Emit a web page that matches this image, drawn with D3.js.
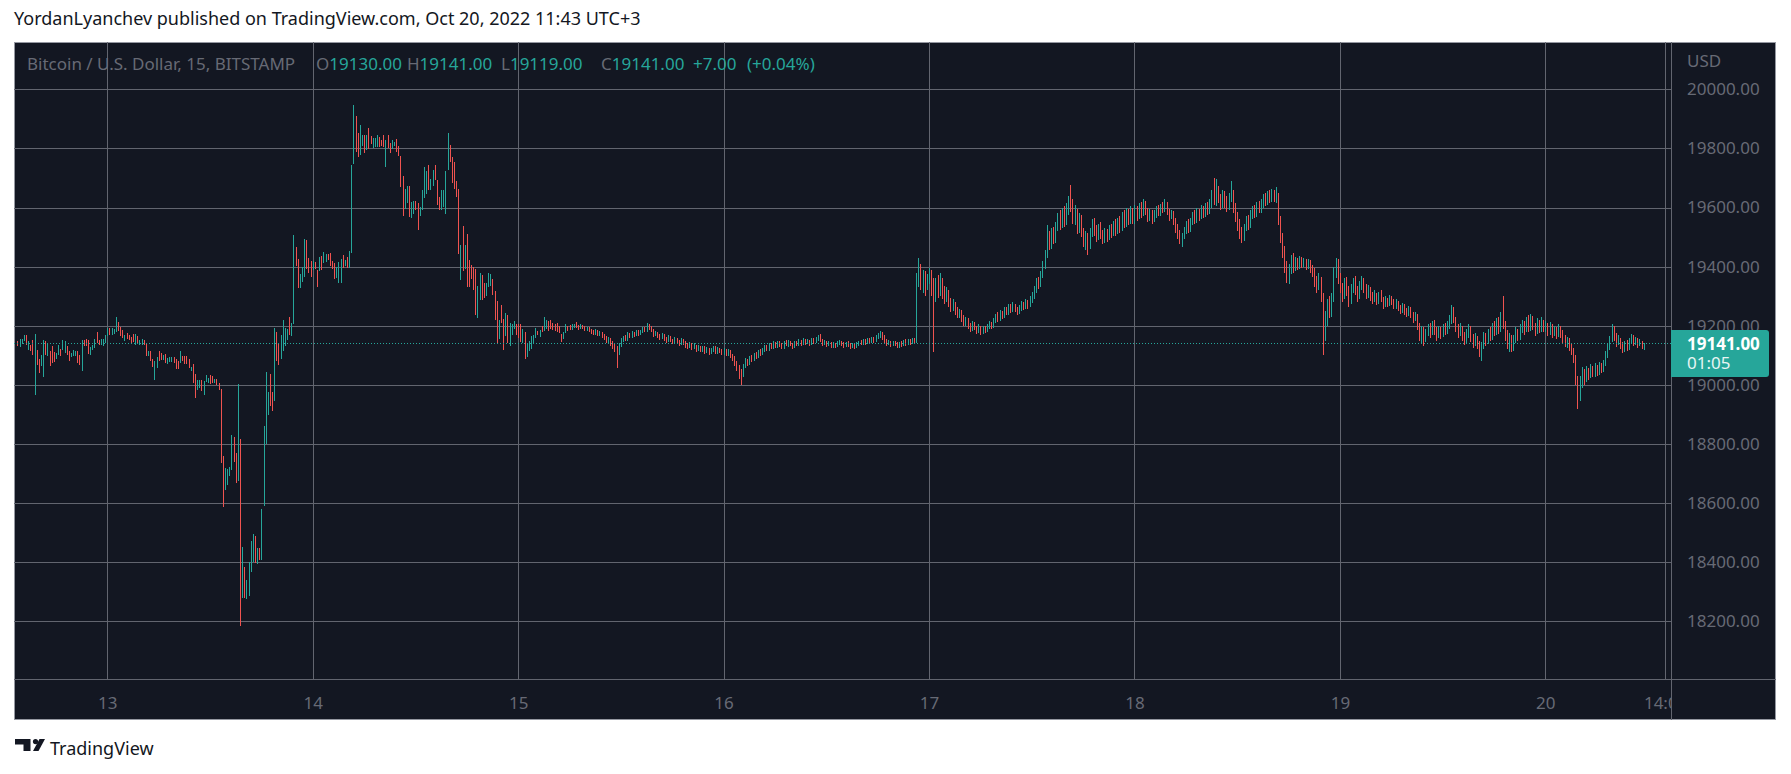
<!DOCTYPE html>
<html>
<head>
<meta charset="utf-8">
<script src="https://cdn.jsdelivr.net/npm/d3@7"></script>
<style>
  html, body { margin: 0; padding: 0; background: #fff; }
  svg { display: block; font-family: "Noto Sans", sans-serif; }
</style>
</head>
<body>
<div id="chart"></div>
<script>
// BTC/USD 15m bars, Bitstamp (O = previous close)
const firstOpen = 19145;

// Oct 12, from 13:30
const oct12Hi = [19147,19155,19156,19170,19167,19147,19136,19153,19173,19119,19089,19102,19151,19150,19142,19113,19131,19111,19108,19134,19122,19153,19147,19133,19114,19108,19117,19116,19114,19102,19153,19153,19156,19153,19127,19136,19155,19178,19151,19155,19155,19170];
const oct12Lo = [19130,19128,19139,19147,19136,19119,19115,19102,18967,19068,19041,19063,19026,19102,19097,19063,19074,19079,19086,19102,19099,19119,19108,19102,19080,19094,19097,19097,19074,19068,19048,19131,19133,19106,19102,19119,19125,19142,19136,19136,19133,19142];
const oct12Cl = [19133,19150,19155,19165,19140,19145,19120,19108,19115,19075,19050,19095,19140,19108,19130,19095,19090,19082,19100,19128,19105,19135,19145,19110,19088,19105,19112,19114,19080,19072,19145,19135,19134,19110,19125,19132,19150,19145,19140,19150,19152,19165];

// Oct 13
const oct13Hi = [19192,19194,19193,19190,19229,19211,19196,19185,19170,19176,19168,19162,19173,19171,19164,19153,19156,19153,19140,19116,
  19114,19089,19080,19095,19114,19108,19102,19105,19091,19095,19095,19093,19086,19080,19114,19099,19099,19099,19086,19061,
  19072,19038,19016,19015,19015,19012,19035,19024,19032,19029,19020,19020,19007,18985,18760,18719,18715,18722,18832,18824,
  18770,19003,18818,18451,18383,18340,18399,18472,18496,18489,18449,18447,18581,18860,19045,18977,19038,18975,19191,19178,
  19140,19167,19221,19191,19188,19228,19210,19506,19468,19425,19376,19399,19493,19489,19428,19419];
const oct13Lo = [19164,19167,19168,19172,19178,19181,19164,19159,19147,19156,19151,19142,19145,19134,19142,19134,19136,19134,19097,19099,
  19080,19060,19018,19057,19080,19084,19085,19074,19072,19077,19079,19074,19055,19055,19074,19082,19072,19069,19058,19046,
  19007,18957,18984,18990,18979,18965,19009,19007,19004,19007,19007,18998,18982,18736,18586,18643,18662,18690,18711,18738,
  18668,18676,18185,18278,18280,18275,18284,18366,18399,18397,18393,18408,18408,18589,18801,18899,18928,18911,18947,19080,
  19066,19086,19114,19133,19151,19168,19165,19205,19402,19327,19327,19348,19365,19391,19377,19365];
const oct13Cl = [19185,19172,19188,19189,19215,19186,19170,19162,19168,19160,19155,19150,19148,19165,19145,19150,19152,19138,19100,19112,
  19085,19065,19075,19093,19088,19086,19100,19078,19088,19092,19094,19078,19060,19058,19108,19090,19080,19072,19058,19060,
  19015,18990,19010,19012,18985,19010,19018,19022,19010,19008,19018,19002,18985,18745,18650,18700,18710,18718,18820,18745,
  18690,18815,18300,18370,18290,18335,18390,18465,18490,18410,18440,18415,18575,18850,18960,18970,18940,18930,19150,19100,
  19090,19150,19180,19185,19187,19175,19205,19440,19410,19340,19370,19390,19470,19400,19385,19375];

// Oct 14
const oct14Hi = [19419,19415,19388,19433,19436,19449,19442,19444,19446,19418,19411,19399,19414,19425,19438,19421,19431,19452,19744,19947,
  19910,19853,19879,19845,19845,19845,19868,19842,19834,19836,19845,19840,19828,19845,19828,19845,19817,19828,19823,19832,
  19808,19774,19706,19663,19672,19672,19618,19621,19621,19614,19602,19658,19736,19723,19743,19696,19727,19743,19693,19634,
  19658,19658,19723,19853,19811,19772,19755,19690,19662,19472,19537,19472,19512,19421,19405,19399,19391,19334,19377,19372,
  19343,19343,19377,19374,19357,19318,19284,19219,19269,19224,19242,19238,19208,19205,19215,19205];
const oct14Lo = [19388,19391,19331,19384,19388,19412,19416,19424,19401,19391,19357,19363,19345,19345,19397,19401,19397,19397,19445,19747,
  19789,19772,19777,19808,19785,19794,19797,19814,19800,19806,19806,19806,19808,19806,19738,19803,19783,19797,19808,19789,
  19775,19670,19571,19594,19614,19568,19564,19577,19591,19523,19571,19591,19633,19646,19658,19658,19672,19693,19608,19591,
  19591,19602,19577,19727,19755,19684,19662,19636,19442,19354,19384,19393,19331,19332,19357,19322,19238,19225,19286,19286,
  19295,19301,19331,19334,19303,19221,19142,19154,19210,19117,19165,19142,19133,19167,19188,19167];
const oct14Cl = [19410,19395,19345,19425,19395,19430,19438,19428,19405,19395,19365,19390,19405,19420,19400,19415,19402,19445,19740,19880,
  19800,19790,19840,19842,19800,19830,19820,19816,19828,19830,19840,19812,19810,19808,19825,19810,19790,19820,19822,19795,
  19780,19680,19600,19650,19660,19580,19605,19610,19600,19580,19595,19645,19700,19710,19670,19690,19715,19700,19620,19600,
  19640,19650,19720,19800,19770,19700,19680,19650,19460,19468,19400,19450,19400,19370,19360,19330,19250,19320,19360,19300,
  19297,19330,19370,19372,19310,19230,19160,19215,19212,19130,19230,19150,19195,19200,19210,19180];

// Oct 15
const oct15Hi = [19205,19205,19188,19179,19142,19148,19165,19168,19191,19182,19184,19199,19231,19219,19216,19219,19210,19205,19210,19199,
  19173,19180,19205,19199,19202,19205,19207,19212,19203,19206,19204,19199,19197,19196,19190,19186,19188,19186,19181,19180,
  19172,19165,19162,19160,19148,19138,19130,19140,19158,19166,19168,19178,19175,19182,19180,19185,19184,19186,19196,19197,
  19210,19206,19200,19190,19182,19180,19172,19174,19172,19162,19167,19165,19156,19162,19160,19153,19158,19155,19148,19142,
  19145,19143,19140,19136,19135,19133,19132,19130,19127,19125,19124,19133,19130,19128,19126,19122];
const oct15Lo = [19160,19145,19142,19088,19094,19114,19123,19142,19159,19167,19162,19179,19182,19188,19182,19188,19184,19182,19179,19176,
  19145,19154,19174,19182,19184,19185,19191,19192,19186,19188,19190,19182,19183,19178,19172,19168,19170,19164,19166,19160,
  19152,19140,19143,19132,19122,19110,19057,19100,19128,19144,19148,19150,19158,19160,19163,19165,19166,19168,19175,19178,
  19180,19186,19178,19162,19165,19158,19152,19154,19148,19142,19145,19144,19137,19140,19140,19132,19135,19136,19126,19122,
  19125,19118,19120,19112,19114,19110,19112,19106,19108,19100,19104,19112,19105,19106,19108,19100];
const oct15Cl = [19170,19150,19180,19100,19135,19140,19160,19165,19185,19170,19180,19179,19205,19212,19200,19192,19188,19185,19182,19178,
  19150,19175,19200,19190,19186,19200,19205,19198,19192,19200,19195,19188,19192,19185,19180,19175,19182,19170,19176,19168,
  19160,19150,19155,19140,19130,19120,19110,19135,19150,19160,19155,19170,19165,19175,19170,19178,19172,19180,19190,19185,
  19200,19195,19185,19170,19175,19165,19160,19168,19155,19150,19160,19150,19145,19155,19148,19140,19150,19142,19135,19130,
  19138,19125,19132,19120,19128,19118,19125,19115,19120,19110,19118,19125,19112,19120,19115,19108];

// Oct 16
const oct16Hi = [19125,19122,19120,19118,19105,19096,19082,19068,19055,19072,19090,19088,19098,19100,19108,19112,19118,19120,19125,19135,
  19136,19140,19142,19148,19144,19150,19148,19140,19147,19152,19153,19150,19143,19148,19150,19155,19152,19158,19156,19155,
  19153,19160,19158,19163,19168,19172,19155,19152,19150,19148,19146,19145,19143,19148,19152,19150,19144,19146,19147,19140,
  19143,19142,19144,19150,19152,19155,19154,19158,19157,19162,19162,19168,19175,19182,19180,19168,19156,19152,19150,19148,
  19150,19145,19146,19148,19152,19155,19156,19155,19158,19160,19380,19430,19410,19390,19385,19375];
const oct16Lo = [19100,19098,19096,19090,19080,19065,19048,19020,19000,19028,19058,19064,19068,19078,19080,19088,19090,19098,19100,19112,
  19113,19115,19120,19122,19124,19126,19128,19120,19122,19130,19128,19130,19122,19125,19130,19130,19132,19134,19136,19138,
  19133,19136,19138,19140,19148,19144,19132,19134,19128,19130,19124,19126,19125,19128,19135,19132,19126,19128,19128,19122,
  19124,19123,19126,19132,19134,19135,19136,19138,19140,19140,19143,19146,19155,19158,19152,19142,19132,19134,19128,19130,
  19132,19124,19126,19128,19130,19133,19135,19136,19138,19138,19140,19330,19320,19310,19300,19320];
const oct16Cl = [19115,19105,19112,19098,19090,19075,19060,19040,19035,19065,19080,19072,19090,19085,19100,19095,19110,19105,19118,19125,
  19120,19132,19128,19138,19130,19142,19135,19128,19140,19135,19145,19138,19130,19142,19136,19145,19140,19150,19142,19148,
  19140,19152,19145,19155,19160,19150,19140,19145,19135,19142,19130,19138,19132,19140,19145,19138,19132,19140,19135,19128,
  19136,19130,19138,19145,19140,19148,19142,19150,19145,19155,19150,19160,19165,19175,19160,19150,19140,19145,19135,19142,
  19138,19130,19140,19135,19145,19140,19148,19142,19150,19145,19350,19400,19340,19370,19330,19350];

// Oct 17
const oct17Hi = [19395,19390,19360,19360,19372,19380,19360,19335,19330,19320,19295,19290,19282,19262,19258,19252,19235,19230,19226,19210,
  19215,19212,19200,19205,19200,19198,19200,19205,19215,19212,19225,19240,19245,19252,19250,19262,19265,19272,19275,19280,
  19274,19265,19270,19285,19282,19290,19288,19300,19315,19335,19360,19365,19385,19420,19455,19540,19520,19530,19535,19550,
  19580,19590,19600,19605,19615,19640,19675,19630,19610,19595,19580,19575,19530,19520,19515,19530,19560,19565,19540,19545,
  19550,19525,19530,19528,19540,19545,19555,19560,19565,19570,19585,19590,19600,19595,19605,19600];
const oct17Lo = [19340,19300,19110,19280,19295,19300,19290,19275,19280,19265,19245,19250,19238,19225,19225,19212,19198,19200,19190,19178,
  19182,19185,19172,19175,19168,19172,19176,19178,19188,19190,19192,19208,19212,19215,19222,19225,19236,19238,19242,19245,
  19245,19236,19240,19250,19252,19255,19258,19262,19278,19292,19312,19325,19330,19360,19392,19430,19455,19460,19475,19480,
  19520,19525,19530,19535,19540,19575,19585,19545,19540,19510,19515,19500,19465,19455,19440,19460,19500,19505,19485,19490,
  19495,19475,19480,19485,19490,19498,19502,19505,19510,19515,19520,19530,19535,19540,19545,19545];
const oct17Cl = [19380,19320,19300,19340,19310,19350,19320,19290,19310,19280,19260,19275,19250,19235,19245,19225,19210,19220,19200,19190,
  19205,19195,19185,19195,19180,19190,19185,19195,19205,19198,19215,19230,19220,19240,19232,19250,19245,19260,19250,19265,
  19255,19245,19258,19270,19262,19275,19268,19285,19300,19320,19345,19335,19370,19400,19440,19500,19470,19510,19490,19530,
  19560,19540,19580,19550,19590,19620,19600,19560,19580,19530,19560,19520,19480,19500,19470,19510,19540,19520,19500,19530,
  19510,19490,19515,19500,19525,19510,19535,19520,19545,19530,19560,19545,19575,19555,19580,19560];

// Oct 18
const oct18Hi = [19610,19605,19615,19620,19628,19622,19600,19595,19592,19590,19605,19610,19612,19618,19628,19620,19595,19592,19588,19565,
  19545,19525,19515,19535,19555,19560,19565,19585,19590,19598,19595,19608,19605,19615,19620,19630,19660,19700,19695,19672,
  19645,19660,19655,19640,19650,19690,19660,19615,19585,19560,19535,19545,19570,19575,19590,19605,19610,19618,19622,19628,
  19645,19650,19655,19658,19662,19660,19670,19648,19570,19515,19470,19420,19410,19440,19445,19432,19428,19435,19432,19430,
  19426,19425,19422,19405,19395,19370,19380,19365,19310,19250,19290,19300,19310,19400,19430,19425];
const oct18Lo = [19545,19555,19560,19565,19570,19575,19550,19555,19545,19550,19565,19570,19572,19580,19585,19575,19555,19560,19540,19515,
  19495,19475,19468,19495,19510,19515,19518,19540,19545,19548,19555,19560,19565,19568,19575,19578,19600,19610,19605,19615,
  19590,19600,19600,19585,19590,19620,19580,19550,19520,19495,19480,19488,19520,19525,19532,19560,19565,19568,19580,19582,
  19600,19605,19608,19615,19618,19620,19615,19540,19480,19430,19380,19345,19340,19375,19380,19385,19388,19392,19395,19398,
  19390,19392,19380,19365,19330,19310,19320,19280,19100,19150,19200,19225,19230,19280,19360,19340];
const oct18Cl = [19590,19570,19600,19580,19610,19590,19570,19585,19560,19575,19595,19580,19600,19590,19610,19585,19570,19580,19555,19530,
  19510,19490,19505,19520,19540,19525,19550,19570,19555,19580,19565,19590,19575,19600,19585,19610,19640,19620,19660,19630,
  19610,19640,19620,19600,19630,19650,19600,19570,19540,19520,19500,19530,19555,19540,19570,19590,19575,19600,19590,19610,
  19630,19615,19640,19625,19645,19630,19640,19560,19500,19450,19400,19360,19390,19420,19395,19415,19400,19420,19405,19418,
  19400,19410,19395,19380,19350,19330,19350,19300,19180,19220,19270,19240,19290,19380,19410,19360];

// Oct 19
const oct19Hi = [19380,19345,19360,19365,19335,19340,19360,19370,19335,19350,19368,19360,19340,19338,19332,19315,19320,19312,19315,19320,
  19298,19300,19295,19305,19300,19292,19290,19285,19270,19278,19272,19260,19268,19262,19248,19245,19240,19210,19200,19195,
  19190,19205,19210,19215,19220,19195,19200,19195,19205,19210,19215,19235,19270,19265,19230,19205,19210,19200,19180,19190,
  19205,19200,19172,19175,19165,19150,19145,19180,19175,19190,19195,19210,19215,19225,19230,19245,19300,19215,19185,19175,
  19170,19168,19195,19190,19205,19220,19215,19230,19235,19240,19232,19210,19225,19220,19228,19218];
const oct19Lo = [19310,19280,19290,19300,19265,19275,19310,19305,19280,19290,19320,19310,19290,19295,19285,19275,19280,19270,19275,19280,
  19258,19262,19265,19268,19270,19255,19258,19250,19240,19242,19238,19228,19232,19225,19210,19215,19185,19150,19140,19130,
  19145,19165,19160,19168,19170,19150,19158,19155,19162,19170,19172,19190,19205,19210,19180,19160,19165,19150,19135,19140,
  19160,19145,19125,19130,19120,19095,19080,19120,19130,19138,19150,19152,19165,19168,19172,19178,19190,19150,19120,19110,
  19110,19115,19140,19148,19152,19175,19170,19178,19180,19182,19185,19165,19172,19175,19178,19180];
const oct19Cl = [19330,19300,19340,19320,19290,19320,19345,19320,19300,19330,19350,19325,19310,19325,19300,19290,19305,19285,19300,19290,
  19270,19285,19275,19290,19280,19265,19278,19262,19250,19265,19250,19240,19255,19240,19225,19235,19200,19170,19185,19160,
  19175,19190,19175,19195,19180,19165,19180,19170,19190,19180,19200,19215,19245,19220,19195,19175,19190,19165,19150,19170,
  19185,19160,19140,19155,19135,19110,19130,19160,19145,19175,19160,19190,19175,19200,19185,19220,19200,19170,19140,19160,
  19130,19150,19175,19160,19185,19200,19185,19205,19190,19210,19195,19180,19200,19185,19205,19190];

// Oct 20, up to 11:30
const oct20Hi = [19215,19210,19212,19205,19200,19195,19205,19200,19185,19168,19162,19158,19140,19125,19100,19030,19030,19060,19055,19065,
  19058,19070,19065,19075,19068,19078,19075,19085,19115,19140,19165,19205,19200,19175,19170,19160,19145,19150,19152,19160,
  19172,19170,19162,19158,19155,19150,19141];
const oct20Lo = [19180,19165,19170,19160,19165,19155,19162,19160,19140,19128,19125,19115,19100,19075,19000,18920,18945,18990,19000,19010,
  19018,19022,19025,19028,19030,19035,19040,19045,19065,19092,19118,19145,19150,19128,19135,19120,19108,19112,19115,19118,
  19138,19130,19135,19125,19130,19122,19119];
const oct20Cl = [19200,19180,19195,19175,19185,19170,19190,19175,19155,19140,19150,19130,19115,19090,19020,18960,19010,19040,19020,19045,
  19030,19050,19035,19055,19040,19060,19050,19070,19100,19125,19150,19185,19160,19140,19155,19135,19120,19140,19125,19145,
  19160,19140,19150,19135,19145,19130,19141];

const dayStarts = ["2022-10-12T13:30:00Z", "2022-10-13T00:00:00Z", "2022-10-14T00:00:00Z", "2022-10-15T00:00:00Z",
  "2022-10-16T00:00:00Z", "2022-10-17T00:00:00Z", "2022-10-18T00:00:00Z", "2022-10-19T00:00:00Z", "2022-10-20T00:00:00Z"];

const priceTicks = [18200, 18400, 18600, 18800, 19000, 19200, 19400, 19600, 19800, 20000];
const timeTickDates = ["2022-10-13T00:00:00Z","2022-10-14T00:00:00Z","2022-10-15T00:00:00Z","2022-10-16T00:00:00Z",
  "2022-10-17T00:00:00Z","2022-10-18T00:00:00Z","2022-10-19T00:00:00Z","2022-10-20T00:00:00Z","2022-10-20T14:00:00Z"];
const timeTickLabels = ["13","14","15","16","17","18","19","20","14:00"];

const headerText = "YordanLyanchev published on TradingView.com, Oct 20, 2022 11:43 UTC+3";
const legendTitle = "Bitcoin / U.S. Dollar, 15, BITSTAMP";
const ohlcKeys = ["O", "H", "L", "C"];
const ohlcValues = ["19130.00", "19141.00", "19119.00", "19141.00"];
const changeTexts = ["+7.00", "(+0.04%)"];
const lastPrice = 19141;
const countdown = "01:05";

// ---------- build bars ----------
const dayHi = [oct12Hi, oct13Hi, oct14Hi, oct15Hi, oct16Hi, oct17Hi, oct18Hi, oct19Hi, oct20Hi];
const dayLo = [oct12Lo, oct13Lo, oct14Lo, oct15Lo, oct16Lo, oct17Lo, oct18Lo, oct19Lo, oct20Lo];
const dayCl = [oct12Cl, oct13Cl, oct14Cl, oct15Cl, oct16Cl, oct17Cl, oct18Cl, oct19Cl, oct20Cl];
const bars = [];
let prevClose = firstOpen;
dayStarts.forEach((s, di) => {
  const t0 = new Date(s).getTime();
  dayCl[di].forEach((c, i) => {
    bars.push({ t: new Date(t0 + i * 15 * 60000), o: prevClose, h: dayHi[di][i], l: dayLo[di][i], c: c });
    prevClose = c;
  });
});

// ---------- layout ----------
const W = 1791, H = 774;
const frame = { left: 14, top: 42, right: 1776, bottom: 720 };
const plotRight = 1671, plotBottom = 679.5;
const upColor = "#26a69a", downColor = "#ef5350";
const gridColor = "#62656f", textGray = "#676a75", bg = "#131722";

const x = d3.scaleUtc()
  .domain([new Date("2022-10-13T00:00:00Z"), new Date("2022-10-20T00:00:00Z")])
  .range([107.3, 1545.3]);
const y = d3.scaleLinear().domain([18200, 20000]).range([621.3, 89.3]);

const svg = d3.select("#chart").append("svg").attr("width", W).attr("height", H);

svg.append("defs").append("clipPath").attr("id", "plotClip")
  .append("rect").attr("x", frame.left).attr("y", frame.top)
  .attr("width", plotRight - frame.left).attr("height", plotBottom - frame.top);

// header
svg.append("text").attr("x", 14).attr("y", 25)
  .style("font-size", "18px").style("fill", "#131722").text(headerText);

// dark panel
svg.append("rect")
  .attr("x", frame.left + 0.5).attr("y", frame.top + 0.5)
  .attr("width", frame.right - frame.left - 1).attr("height", frame.bottom - frame.top - 1)
  .attr("fill", bg).attr("stroke", "#9598a1");

const plot = svg.append("g").attr("clip-path", "url(#plotClip)");

// grid horizontal
plot.append("g").attr("transform", `translate(${frame.left},0)`)
  .call(d3.axisRight(y).tickValues(priceTicks).tickSize(plotRight - frame.left).tickFormat(""))
  .call(g => g.select(".domain").remove())
  .call(g => g.selectAll("line").attr("stroke", gridColor).attr("shape-rendering", "crispEdges"));

// grid vertical
const tickDates = timeTickDates.map(d => new Date(d));
plot.append("g").attr("transform", `translate(0,${plotBottom})`)
  .call(d3.axisBottom(x).tickValues(tickDates).tickSize(-(plotBottom - frame.top)).tickFormat(""))
  .call(g => g.select(".domain").remove())
  .call(g => g.selectAll("line").attr("stroke", gridColor).attr("shape-rendering", "crispEdges"));

// bars (high-low lines)
plot.selectAll(".bar")
  .data(bars)
  .enter().append("rect")
  .attr("class", "bar")
  .attr("x", d => Math.round(x(d.t)))
  .attr("y", d => Math.round(y(d.h)))
  .attr("width", 1)
  .attr("height", d => Math.max(1, Math.round(y(d.l)) - Math.round(y(d.h))))
  .attr("fill", d => d.c >= d.o ? upColor : downColor);

// last price dotted line
plot.append("line")
  .attr("x1", frame.left).attr("x2", plotRight)
  .attr("y1", Math.round(y(lastPrice)) + 0.5).attr("y2", Math.round(y(lastPrice)) + 0.5)
  .attr("stroke", upColor).attr("stroke-dasharray", "1,2");

// legend
const legend = svg.append("text").attr("y", 70).style("font-size", "17px");
legend.append("tspan").attr("x", 27).style("fill", textGray).text(legendTitle);
const keyX = [316, 407, 501, 601];
ohlcKeys.forEach((k, i) => {
  legend.append("tspan").attr("x", keyX[i]).style("fill", textGray).text(k);
  legend.append("tspan").style("fill", upColor).text(ohlcValues[i]);
});
legend.append("tspan").attr("x", 693).style("fill", upColor).text(changeTexts[0]);
legend.append("tspan").attr("x", 747).style("fill", upColor).text(changeTexts[1]);

// separators
svg.append("line").attr("x1", plotRight + 0.5).attr("x2", plotRight + 0.5)
  .attr("y1", frame.top).attr("y2", frame.bottom).attr("stroke", gridColor);
svg.append("line").attr("x1", frame.left).attr("x2", frame.right)
  .attr("y1", plotBottom).attr("y2", plotBottom).attr("stroke", gridColor);

// price axis
svg.append("g").attr("transform", `translate(${plotRight},0)`)
  .call(d3.axisRight(y).tickValues(priceTicks).tickSize(0).tickPadding(16).tickFormat(d3.format(".2f")))
  .call(g => g.select(".domain").remove())
  .call(g => g.selectAll("text").style("font-size", "17px").style("fill", textGray)
    .style("font-family", "'Noto Sans', sans-serif"));
svg.append("text").attr("x", 1687).attr("y", 67)
  .style("font-size", "17px").style("fill", textGray).text("USD");

// time axis labels (clipped at price scale)
svg.append("defs").append("clipPath").attr("id", "timeClip")
  .append("rect").attr("x", frame.left).attr("y", plotBottom)
  .attr("width", plotRight - frame.left).attr("height", frame.bottom - plotBottom);
svg.append("g").attr("clip-path", "url(#timeClip)")
  .append("g").attr("transform", `translate(0,${plotBottom})`)
  .call(d3.axisBottom(x).tickValues(tickDates).tickSize(0).tickPadding(17)
    .tickFormat((d, i) => timeTickLabels[i]))
  .call(g => g.select(".domain").remove())
  .call(g => g.selectAll("text").style("font-size", "17px").style("fill", textGray)
    .style("font-family", "'Noto Sans', sans-serif"));

// last price label
const py = y(lastPrice);
const bx0 = plotRight, bx1 = 1769, by0 = Math.round(py) - 13, by1 = by0 + 47;
svg.append("path")
  .attr("d", `M${bx0},${by0} H${bx1 - 3} Q${bx1},${by0} ${bx1},${by0 + 3} V${by1 - 3} Q${bx1},${by1} ${bx1 - 3},${by1} H${bx0} Z`)
  .attr("fill", upColor);
svg.append("text").attr("x", 1687).attr("y", py + 6.5)
  .style("font-size", "17px").style("font-weight", "700").style("fill", "#fff")
  .text(d3.format(".2f")(lastPrice));
svg.append("text").attr("x", 1687).attr("y", py + 26)
  .style("font-size", "17px").style("fill", "#e8f5f3").text(countdown);

// footer logo
const logo = svg.append("g").attr("fill", "#131722");
logo.append("path").attr("d", "M15,739 H30.5 V751 H23.5 V744.5 H15 Z");
logo.append("circle").attr("cx", 35.5).attr("cy", 741.6).attr("r", 2.6);
logo.append("path").attr("d", "M39.5,739 H45 L38.5,751 H33 Z");
svg.append("text").attr("x", 50).attr("y", 754.5)
  .style("font-size", "18px").style("fill", "#131722").text("TradingView");
</script>
</body>
</html>
